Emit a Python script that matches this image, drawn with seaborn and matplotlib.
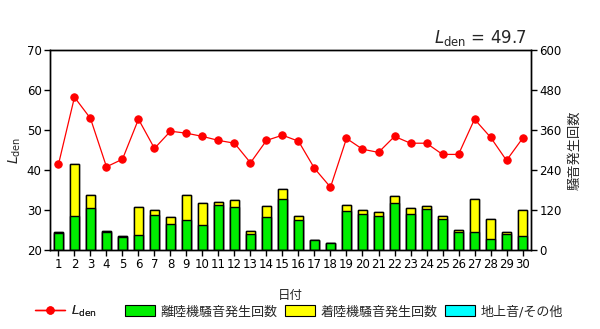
import matplotlib
matplotlib.use("Agg")
import matplotlib.pyplot as plt
import seaborn as sns
import pandas as pd
from matplotlib.lines import Line2D
from matplotlib.patches import Patch

days = list(range(1, 31))
lden = [41.4, 58.2, 52.9, 40.8, 42.7, 52.7, 45.4, 49.7, 49.2, 48.4,
        47.4, 46.7, 41.8, 47.4, 48.7, 47.2, 40.4, 35.7, 47.9, 45.2,
        44.4, 48.4, 46.7, 46.7, 43.9, 43.9, 52.7, 48.2, 42.4, 47.9]
takeoff = [50, 101, 125, 53, 39, 44, 105, 77, 89, 74,
           134, 128, 47, 98, 152, 89, 29, 20, 116, 107,
           101, 140, 107, 122, 92, 53, 53, 32, 47, 41]
landing = [4, 156, 40, 4, 3, 85, 14, 21, 76, 66,
           9, 21, 9, 34, 30, 12, 0, 0, 19, 12,
           12, 22, 18, 9, 9, 6, 99, 60, 6, 78]
ground = [0] * 30
lden_total = 49.7

sns.set_theme(style="white")
plt.rcParams["font.family"] = ["DejaVu Sans", "Noto Sans CJK JP"]
plt.rcParams["mathtext.fontset"] = "dejavusans"

df = pd.DataFrame({
    "day": [str(d) for d in days],
    "pos": range(len(days)),
    "lden": lden,
    "takeoff": takeoff,
    "landing_top": [t + l for t, l in zip(takeoff, landing)],
    "ground_top": [t + l + g for t, l, g in zip(takeoff, landing, ground)],
})

fig = plt.figure(figsize=(6.0, 3.29), dpi=100)
ax = fig.add_axes([0.0833, 0.2401, 0.8017, 0.6079])
ax2 = ax.twinx()

# stacked counts on the right axis: draw the cumulative tops first
bar_kw = dict(width=0.52, edgecolor="black", linewidth=1.0, ax=ax2, saturation=1)
sns.barplot(data=df, x="day", y="ground_top", color="#00ffff", **bar_kw)
sns.barplot(data=df, x="day", y="landing_top", color="#ffff00", **bar_kw)
sns.barplot(data=df, x="day", y="takeoff", color="#00ee00", **bar_kw)

# daily Lden on the left axis, kept above the bars
sns.lineplot(data=df, x="pos", y="lden", ax=ax, color="#ff0000", linewidth=0.9,
             marker="o", markersize=5.3, markeredgecolor="#ff0000")
ax.set_zorder(ax2.get_zorder() + 1)
ax.patch.set_visible(False)

ax.set_xlim(-0.53, 29.53)
ax2.set_xlim(-0.53, 29.53)
ax.set_ylim(20, 70)
ax.set_yticks(range(20, 71, 10))
ax2.set_ylim(0, 600)
ax2.set_yticks(range(0, 601, 120))
ax.set_xticks(range(30))
ax.set_xticklabels([str(d) for d in days])

for a in (ax, ax2):
    for s in a.spines.values():
        s.set_color("black")
        s.set_linewidth(1.0)
    a.tick_params(direction="out", length=4, width=1, color="black",
                  labelsize=8.5, labelcolor="black", pad=2)
ax.tick_params(axis="x", bottom=True)
ax.tick_params(axis="y", left=True)
ax2.tick_params(axis="y", right=True)

ax.set_xlabel("日付", fontsize=9, labelpad=13)
ax2.set_xlabel("")
ax.set_ylabel(r"$L_{\mathrm{den}}$", fontsize=10, labelpad=3)
ax2.set_ylabel("騒音発生回数", fontsize=9.5, labelpad=5)

ax.text(0.99, 1.01, r"$L_{\mathrm{den}}$ = " + f"{lden_total}", transform=ax.transAxes,
        ha="right", va="bottom", fontsize=12)

leg_kw = dict(frameon=False, fontsize=9.4, handlelength=2.3, handleheight=0.9,
              handletextpad=0.45, borderpad=0, borderaxespad=0, loc="center left")
line_handle = [Line2D([0], [0], color="#ff0000", marker="o", markersize=5, linewidth=1)]
leg1 = fig.legend(line_handle, [r"$L_{\mathrm{den}}$"],
                  bbox_to_anchor=(35 / 600, 0.052), **leg_kw)
patch_handles = [
    Patch(facecolor="#00ee00", edgecolor="black", linewidth=0.8),
    Patch(facecolor="#ffff00", edgecolor="black", linewidth=0.8),
    Patch(facecolor="#00ffff", edgecolor="black", linewidth=0.8),
]
patch_labels = ["離陸機騒音発生回数", "着陸機騒音発生回数", "地上音/その他"]
fig.legend(patch_handles, patch_labels, ncol=3, columnspacing=0.55,
           bbox_to_anchor=(125 / 600, 0.052), **leg_kw)
fig.add_artist(leg1)

fig.savefig("out.png", dpi=100)
